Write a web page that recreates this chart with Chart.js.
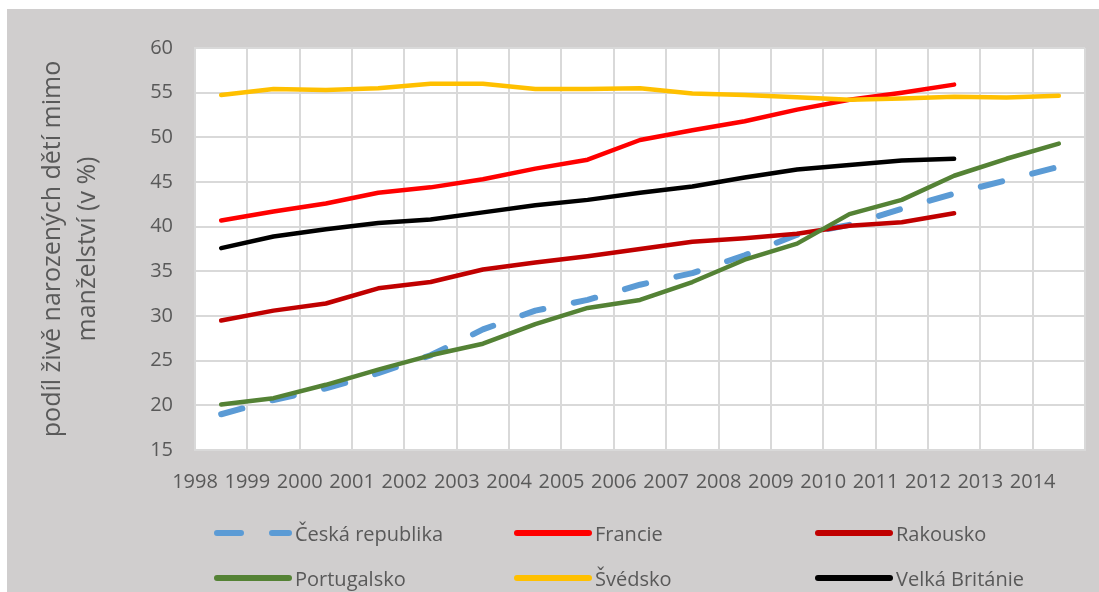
<!DOCTYPE html>
<html>
<head>
<meta charset="utf-8">
<script src="https://cdn.jsdelivr.net/npm/chart.js@4/dist/chart.umd.min.js"></script>
<style>
  body { margin: 0; width: 1099px; height: 592px; background: #fff; overflow: hidden; font-family: "Open Sans", sans-serif; }
  #panel { position: absolute; left: 7px; top: 9px; width: 1092px; height: 583px; background: #d0cece; }
  #chart { position: absolute; left: 0; top: 0; }
  .leg { position: absolute; height: 30px; display: flex; align-items: center; font-size: 20px; color: #595959; white-space: nowrap; }
  .leg svg { margin-right: 3px; }
</style>
</head>
<body>
<div id="panel">
  <canvas id="chart" width="1092" height="583"></canvas>
  <div id="legend"></div>
</div>
<script>
// roky na ose x
var years = ["1998","1999","2000","2001","2002","2003","2004","2005","2006","2007","2008","2009","2010","2011","2012","2013","2014"];

// podíl živě narozených dětí mimo manželství (v %)
var cesko = [19.0, 20.6, 21.9, 23.6, 25.6, 28.5, 30.6, 31.8, 33.5, 34.8, 36.8, 39.1, 40.2, 42.0, 43.7, 45.2, 46.7];
var francie = [40.7, 41.7, 42.6, 43.8, 44.4, 45.3, 46.5, 47.5, 49.7, 50.8, 51.8, 53.1, 54.2, 55.0, 55.9];
var rakousko = [29.5, 30.6, 31.4, 33.1, 33.8, 35.2, 36.0, 36.7, 37.5, 38.3, 38.7, 39.2, 40.1, 40.5, 41.5];
var portugalsko = [20.1, 20.8, 22.3, 24.0, 25.6, 26.9, 29.1, 30.9, 31.8, 33.8, 36.3, 38.1, 41.4, 43.0, 45.7, 47.6, 49.3];
var svedsko = [54.75, 55.4, 55.3, 55.5, 56.0, 56.0, 55.4, 55.4, 55.5, 54.9, 54.75, 54.5, 54.2, 54.35, 54.55, 54.45, 54.65];
var britanie = [37.6, 38.9, 39.7, 40.4, 40.8, 41.6, 42.4, 43.0, 43.8, 44.5, 45.5, 46.4, 46.9, 47.4, 47.6];

var seriesNames = ["Česká republika", "Francie", "Rakousko", "Portugalsko", "Švédsko", "Velká Británie"];
var seriesValues = [cesko, francie, rakousko, portugalsko, svedsko, britanie];
var seriesColors = ["#5b9bd5", "#ff0000", "#c00000", "#548235", "#ffc000", "#000000"];

// body leží uprostřed kategorie, popisky roků jsou na hranách
function toPoints(arr) {
  return arr.map(function(v, i) { return { x: i + 0.5, y: v }; });
}

var datasets = [];
for (var i = 0; i < seriesNames.length; i++) {
  datasets.push({
    label: seriesNames[i],
    data: toPoints(seriesValues[i]),
    borderColor: seriesColors[i],
    backgroundColor: seriesColors[i],
    borderWidth: i == 0 ? 6 : 4.5,
    borderDash: i == 0 ? [22, 31] : [],
    borderCapStyle: "round",
    borderJoinStyle: "round",
    pointRadius: 0,
    tension: 0,
    order: seriesNames.length - i
  });
}

// bílé pozadí plochy grafu
var plotBg = {
  id: "plotBg",
  beforeDraw: function(chart) {
    var a = chart.chartArea, ctx = chart.ctx;
    ctx.save();
    ctx.fillStyle = "#ffffff";
    ctx.fillRect(a.left, a.top, a.right - a.left, a.bottom - a.top);
    ctx.restore();
  }
};

var gridColor = "#d9d9d9";
var textColor = "#595959";

var chart = new Chart(document.getElementById("chart"), {
  type: "line",
  data: { datasets: datasets },
  plugins: [plotBg],
  options: {
    responsive: false,
    devicePixelRatio: 1,
    animation: false,
    layout: { padding: { top: 39, right: 14, bottom: 92, left: 0 } },
    plugins: { legend: { display: false }, tooltip: { enabled: false } },
    scales: {
      x: {
        type: "linear",
        min: 0,
        max: years.length,
        afterFit: function(scale) {
          scale.height = 50;
          scale.paddingLeft = 0;
          scale.paddingRight = 0;
        },
        grid: { color: gridColor, lineWidth: 2, drawTicks: false },
        border: { color: gridColor, width: 2 },
        ticks: {
          stepSize: 1,
          autoSkip: false,
          maxRotation: 0,
          padding: 20,
          color: textColor,
          font: { family: "Open Sans", size: 20 },
          callback: function(v) { return years[v] !== undefined ? years[v] : ""; }
        }
      },
      y: {
        min: 15,
        max: 60,
        afterFit: function(scale) { scale.width = 188; },
        grid: { color: gridColor, lineWidth: 2, drawTicks: false },
        border: { color: gridColor, width: 2 },
        ticks: {
          stepSize: 5,
          padding: 22,
          color: textColor,
          font: { family: "Open Sans", size: 20 }
        },
        title: {
          display: true,
          text: ["podíl živě narozených dětí mimo", "manželství (v %)"],
          color: textColor,
          font: { family: "Open Sans", size: 25, lineHeight: 1.4 },
          padding: { top: 28, bottom: 0 }
        }
      }
    }
  }
});

// legenda ve třech sloupcích
var legendPos = [[207, 509], [507, 509], [808, 509], [207, 554], [507, 554], [808, 554]];
var legendHtml = "";
for (var j = 0; j < datasets.length; j++) {
  var ds = datasets[j];
  var dash = ds.borderDash.length ? ' stroke-dasharray="24 31"' : "";
  legendHtml += '<div class="leg" style="left:' + legendPos[j][0] + 'px;top:' + legendPos[j][1] + 'px">' +
    '<svg width="78" height="10"><line x1="3" y1="5" x2="75" y2="5" stroke="' + ds.borderColor +
    '" stroke-width="6" stroke-linecap="round"' + dash + '/></svg>' + ds.label + '</div>';
}
document.getElementById("legend").innerHTML = legendHtml;
</script>
</body>
</html>
